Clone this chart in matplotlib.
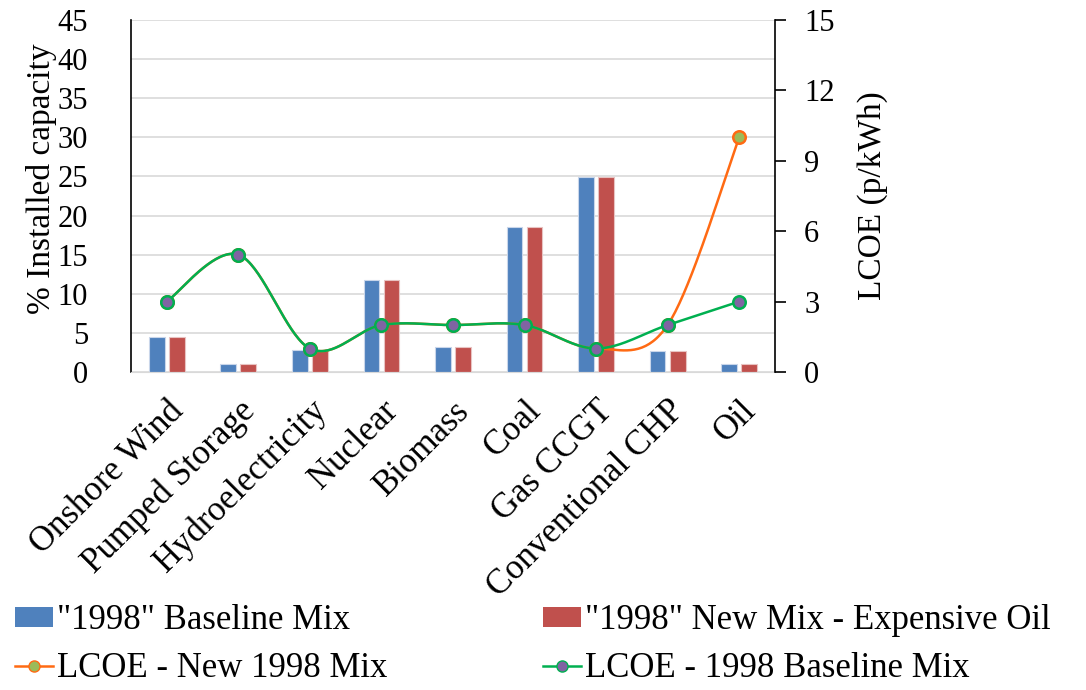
import numpy as np
import matplotlib
matplotlib.use("Agg")
import matplotlib.pyplot as plt
from matplotlib.lines import Line2D
from matplotlib.patches import Patch

plt.rcParams['font.family'] = ['Liberation Serif', 'DejaVu Serif']

categories = ["Onshore Wind", "Pumped Storage", "Hydroelectricity", "Nuclear",
              "Biomass", "Coal", "Gas CCGT", "Conventional CHP", "Oil"]
baseline_mix = [4.5, 1.0, 2.8, 11.7, 3.2, 18.5, 24.9, 2.7, 1.0]
new_mix = [4.5, 1.0, 2.8, 11.7, 3.2, 18.5, 24.9, 2.7, 1.0]
lcoe_new = [3, 5, 1, 2, 2, 2, 1, 2, 10]
lcoe_base = [3, 5, 1, 2, 2, 2, 1, 2, 3]

BLUE = '#4F81BD'
RED = '#C0504D'
ORANGE = '#FF6A13'
GREEN = '#00B050'
PURPLE = '#8064A2'
OLIVE = '#9BBB59'


def smooth(y, n=40):
    # catmull-rom through the points, like a spreadsheet "smoothed line"
    y = np.asarray(y, float)
    x = np.arange(len(y), dtype=float)
    pts = np.column_stack([x, y])
    ext = np.vstack([pts[0], pts, pts[-1]])
    out = []
    for i in range(len(pts) - 1):
        p0, p1, p2, p3 = ext[i], ext[i + 1], ext[i + 2], ext[i + 3]
        c1 = p1 + (p2 - p0) / 6
        c2 = p2 - (p3 - p1) / 6
        t = np.linspace(0, 1, n)[:, None]
        seg = ((1 - t) ** 3 * p1 + 3 * (1 - t) ** 2 * t * c1
               + 3 * (1 - t) * t ** 2 * c2 + t ** 3 * p2)
        out.append(seg if i == 0 else seg[1:])
    seg = np.vstack(out)
    return seg[:, 0], seg[:, 1]


fig = plt.figure(figsize=(10.86, 6.90), dpi=100)
ax = fig.add_axes([0.1206, 0.4609, 0.5930, 0.5101])
ax2 = ax.twinx()

x = np.arange(len(categories))
w = 0.22
ax.bar(x - 0.14, baseline_mix, w, color=BLUE, edgecolor='#C9D6EA', linewidth=0.8, zorder=2)
ax.bar(x + 0.14, new_mix, w, color=RED, edgecolor='#E8C3C2', linewidth=0.8, zorder=2)

ax.set_ylim(0, 45)
ax.set_yticks(np.arange(0, 46, 5))
ax.set_xlim(-0.5, len(categories) - 0.5)
ax.yaxis.grid(True, color='#D9D9D9', linewidth=1.2, zorder=0)
ax.set_axisbelow(True)
ax.set_xticks(x)
ax.set_xticklabels(categories, rotation=45, ha='right', rotation_mode='anchor', fontsize=25)
ax.tick_params(axis='x', length=0, pad=16)
ax.tick_params(axis='y', length=0, labelsize=22, pad=31)
ax.set_ylabel('% Installed capacity', fontsize=24)
ax.yaxis.set_label_coords(-0.115, 0.55)
for s in ['top', 'right']:
    ax.spines[s].set_visible(False)
ax.spines['bottom'].set_color('#D9D9D9')
ax.spines['left'].set_color('black')
ax.spines['left'].set_linewidth(1.2)

xs, ys = smooth(lcoe_new)
ax2.plot(xs, ys, color=ORANGE, linewidth=1.8, zorder=3)
ax2.plot(x, lcoe_new, 'o', color=OLIVE, markeredgecolor=ORANGE, markersize=9,
         markeredgewidth=1.8, zorder=4)
xs, ys = smooth(lcoe_base)
ax2.plot(xs, ys, color=GREEN, linewidth=1.8, zorder=5)
ax2.plot(x, lcoe_base, 'o', color=PURPLE, markeredgecolor=GREEN, markersize=9,
         markeredgewidth=1.8, zorder=6)

ax2.set_ylim(0, 15)
ax2.set_yticks(np.arange(0, 16, 3))
ax2.tick_params(axis='y', direction='out', length=8, width=1.2, labelsize=22, pad=13)
ax2.set_ylabel('LCOE (p/kWh)', fontsize=24, labelpad=16)
for s in ['top', 'left', 'bottom']:
    ax2.spines[s].set_visible(False)
ax2.spines['right'].set_color('black')
ax2.spines['right'].set_linewidth(1.2)

handles = [
    Patch(facecolor=BLUE, edgecolor='none'),
    Line2D([], [], color=ORANGE, marker='o', markerfacecolor=OLIVE,
           markeredgecolor=ORANGE, markersize=8, linewidth=1.8),
    Patch(facecolor=RED, edgecolor='none'),
    Line2D([], [], color=GREEN, marker='o', markerfacecolor=PURPLE,
           markeredgecolor=GREEN, markersize=8, linewidth=1.8),
]
labels = ['"1998" Baseline Mix', 'LCOE - New 1998 Mix',
          '"1998" New Mix - Expensive Oil', 'LCOE - 1998 Baseline Mix']
fig.legend(handles, labels, loc='lower left', bbox_to_anchor=(-0.015, -0.038), ncol=2,
           frameon=False, fontsize=25, handlelength=1.1, handleheight=0.5,
           handletextpad=0.1, columnspacing=4.5, labelspacing=0.42)

fig.savefig('out.png', dpi=100)
